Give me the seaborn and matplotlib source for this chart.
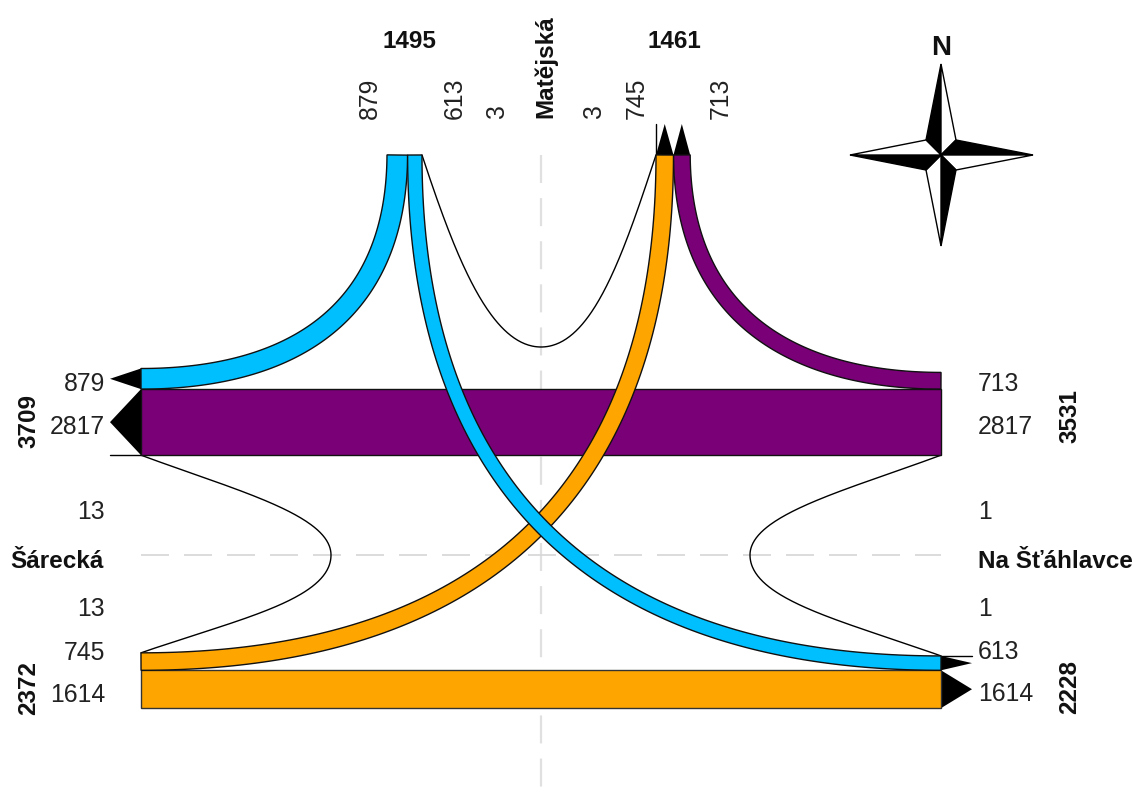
import numpy as np
import matplotlib
matplotlib.use("Agg")
import matplotlib.pyplot as plt
import seaborn as sns

# ---- data ----
west_name, east_name, north_name = "Šárecká", "Na Šťáhlavce", "Matějská"
west_totals = [3709, 2372]
east_totals = [3531, 2228]
north_totals = [1495, 1461]
w_upper = [879, 2817]      # W -> N, W -> E
w_loop = [13, 13]
w_lower = [745, 1614]
e_upper = [713, 2817]
e_loop = [1, 1]
e_lower = [613, 1614]
n_left = [879, 613, 3]
n_right = [3, 745, 713]

# ---- styles / layout ----
BLUE, PURPLE, ORANGE = sns.color_palette(["#00BFFF", "#7A0078", "#FFA500"])
S = 0.02345           # px per vehicle
W_X, E_X, TOP_Y = 141, 941, 155
CX, CY = 541, 555
ARW = 31
sns.set_theme(style="white")
plt.rcParams["font.family"] = ["Liberation Sans", "DejaVu Sans"]
FS, FSB = 17.8, 17.5

fig = plt.figure(figsize=(11.34, 7.99), dpi=100)
ax = fig.add_axes([0, 0, 1, 1])
ax.set_xlim(0, 1134)
ax.set_ylim(799, 0)
ax.axis("off")


def bez(p0, p1, p2, p3, n=120):
    t = np.linspace(0, 1, n)[:, None]
    p0, p1, p2, p3 = map(np.array, (p0, p1, p2, p3))
    return (1-t)**3*p0 + 3*(1-t)**2*t*p1 + 3*(1-t)*t**2*p2 + t**3*p3


def band(p0, p1, p2, p3, flow, color, z):
    c = bez(p0, p1, p2, p3)
    d = np.gradient(c, axis=0)
    d /= np.linalg.norm(d, axis=1, keepdims=True)
    nrm = np.c_[-d[:, 1], d[:, 0]]
    h = flow * S / 2
    a, b = c + nrm*h, c - nrm*h
    ax.fill(np.r_[a[:, 0], b[::-1, 0]], np.r_[a[:, 1], b[::-1, 1]],
            facecolor=color, edgecolor="#111111", lw=1.0, zorder=z)


def thin(*curves):
    pts = np.vstack(curves)
    sns.lineplot(x=pts[:, 0], y=pts[:, 1], sort=False, estimator=None,
                 color="black", lw=1.0, ax=ax, zorder=3, legend=False)


def tri(base_a, base_b, tip):
    ax.fill(*zip(base_a, base_b, tip), color="black", lw=0, zorder=4)


# derived positions
wy0 = 368.5
w_y1 = wy0 + w_upper[0]*S          # boundary 879 / 2817
w_y2 = w_y1 + w_upper[1]*S
ly1 = 670.3
ly2 = ly1 + w_lower[1]*S
wl0 = ly1 - w_lower[0]*S
el0 = ly1 - e_lower[0]*S
ey0 = w_y1 - e_upper[0]*S
nl0 = 387
nl1 = nl0 + n_left[0]*S
nl2 = nl1 + n_left[1]*S
nr2 = 656
nr3 = nr2 + n_right[1]*S
nr4 = nr3 + n_right[2]*S

# guides
ax.plot([CX, CX], [TOP_Y, 799], color="#E0E0E0", lw=1.6, dashes=(12.6, 6.8), zorder=1)
ax.plot([W_X, E_X], [CY, CY], color="#D6D6D6", lw=1.2, dashes=(16.8, 9.0), zorder=1)

# thin loops
thin(bez((nl2, TOP_Y), (nl2+33, 255), (CX-51, 347), (CX, 347)),
     bez((CX, 347), (CX+51, 347), (nr2-33, 255), (nr2, TOP_Y)))
thin(bez((W_X, w_y2), (235, 490), (331, 515), (331, CY)),
     bez((331, CY), (331, 600), (235, 620), (W_X, wl0)))
thin(bez((E_X, w_y2), (847, 490), (750, 515), (750, CY)),
     bez((750, CY), (750, 600), (847, 622), (E_X, el0)))
thin(np.array([[W_X-ARW, w_y2], [W_X, w_y2]]))
thin(np.array([[E_X, el0], [E_X+ARW, el0]]))
thin(np.array([[nr2, TOP_Y-ARW], [nr2, TOP_Y]]))

# bands
xa = nl0 + n_left[0]*S/2
band((xa, TOP_Y), (xa-1, 330), (270, (wy0+w_y1)/2), (W_X, (wy0+w_y1)/2), n_left[0], BLUE, 5)
xb = nr3 + n_right[2]*S/2
band((xb, TOP_Y), (xb+1, 330), (812, (ey0+w_y1)/2), (E_X, (ey0+w_y1)/2), n_right[2], PURPLE, 5)
ax.fill([W_X, E_X, E_X, W_X], [w_y1, w_y1, w_y2, w_y2], facecolor=PURPLE,
        edgecolor="#111111", lw=1.0, zorder=6)
ax.fill([W_X, E_X, E_X, W_X], [ly1, ly1, ly2, ly2], facecolor=ORANGE,
        edgecolor="#333333", lw=1.0, zorder=6)
xc = nr2 + n_right[1]*S/2
band((xc, TOP_Y), (xc, 490), (482, (wl0+ly1)/2), (W_X, (wl0+ly1)/2), n_right[1], ORANGE, 7)
xd = nl1 + n_left[1]*S/2
band((xd, TOP_Y), (xd, 490), (600, (el0+ly1)/2), (E_X, (el0+ly1)/2), n_left[1], BLUE, 8)

# arrow heads
tri((W_X, wy0), (W_X, w_y1), (W_X-ARW, (wy0+w_y1)/2))
tri((W_X, w_y1), (W_X, w_y2), (W_X-ARW, (w_y1+w_y2)/2))
tri((E_X, el0), (E_X, ly1), (E_X+ARW, (el0+ly1)/2))
tri((E_X, ly1), (E_X, ly2), (E_X+ARW, (ly1+ly2)/2))
tri((nr2, TOP_Y), (nr3, TOP_Y), ((nr2+nr3)/2, TOP_Y-ARW))
tri((nr3, TOP_Y), (nr4, TOP_Y), ((nr3+nr4)/2, TOP_Y-ARW))

# side numbers
c = "#222222"
for y, v in zip([384, 427, 512, 609, 653, 695], w_upper + w_loop + w_lower):
    ax.text(105, y, str(v), ha="right", va="center", fontsize=FS, color=c)
for y, v in zip([384, 427, 512, 609, 652, 694], e_upper + e_loop + e_lower):
    ax.text(978, y, str(v), ha="left", va="center", fontsize=FS, color=c)
for x, v in zip([370, 455, 497], n_left):
    ax.text(x, 119, str(v), rotation=90, ha="center", va="bottom", fontsize=FS, color=c)
for x, v in zip([594, 637, 721], n_right):
    ax.text(x, 119, str(v), rotation=90, ha="center", va="bottom", fontsize=FS, color=c)

bold = dict(fontweight="bold", fontsize=FSB, color="#111111")
for y, v in zip([421, 688], west_totals):
    ax.text(29, y, str(v), rotation=90, ha="center", va="center", **bold)
for y, v in zip([416, 687], east_totals):
    ax.text(1070, y, str(v), rotation=90, ha="center", va="center", **bold)
for x, v in zip([409, 674], north_totals):
    ax.text(x, 41, str(v), ha="center", va="center", **bold)
ax.text(10, 561, west_name, ha="left", va="center", **bold)
ax.text(978, 561, east_name, ha="left", va="center", **bold)
ax.text(546, 118, north_name, rotation=90, ha="center", va="bottom", **bold)
ax.text(941, 48, "N", ha="center", va="center", fontweight="bold", fontsize=20, color="#111111")

# compass
cen = (941, 155)
N, S_, W, E = (941, 64), (941, 246), (850, 155), (1033, 155)
NW, NE, SE, SW = (926, 140), (956, 140), (956, 170), (926, 170)
for a, b, col in [(N, NW, "black"), (N, NE, "white"), (E, NE, "black"), (E, SE, "white"),
                  (S_, SE, "black"), (S_, SW, "white"), (W, SW, "black"), (W, NW, "white")]:
    ax.fill(*zip(a, b, cen), facecolor=col, edgecolor="black", lw=1.0, zorder=9)

fig.savefig("out.png", dpi=100, facecolor="white")
